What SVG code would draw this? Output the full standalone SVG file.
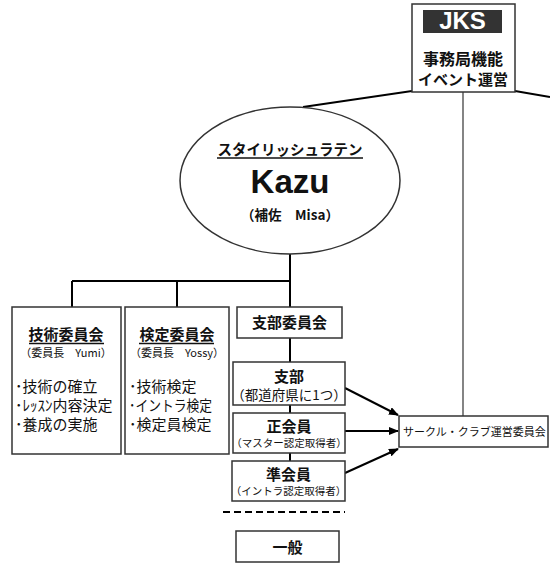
<svg xmlns="http://www.w3.org/2000/svg" width="550" height="575" viewBox="0 0 550 575">
<defs>
<marker id="ah" markerWidth="10" markerHeight="8" refX="9" refY="4" orient="auto" markerUnits="userSpaceOnUse">
<path d="M0,0 L10,4 L0,8 Z" fill="#000"/>
</marker>
<style>
.box{fill:#fff;stroke:#333;stroke-width:1.5}
.ln{stroke:#000;stroke-width:2;fill:none}
.thin{stroke:#333;stroke-width:1.2;fill:none}
.jp{font-family:"Noto Sans CJK JP","Noto Sans",sans-serif;fill:#111}
.b{font-weight:bold}
.c{text-anchor:middle}
.ul{stroke:#111;stroke-width:1.3}
</style>
</defs>
<rect width="550" height="575" fill="#fff"/>
<g id="connectors">
<line class="ln" x1="412" y1="91" x2="303" y2="107"/>
<line class="ln" x1="515" y1="91" x2="550" y2="97"/>
<line class="thin" x1="463" y1="92" x2="463" y2="416"/>
<line class="ln" x1="290" y1="254" x2="290" y2="307"/>
<line class="ln" x1="72" y1="281" x2="290" y2="281"/>
<line class="ln" x1="72" y1="281" x2="72" y2="307"/>
<line class="ln" x1="177" y1="281" x2="177" y2="307"/>
<line class="ln" x1="290" y1="338" x2="290" y2="362"/>
<line class="ln" x1="290" y1="405" x2="290" y2="413"/>
<line class="ln" x1="290" y1="453" x2="290" y2="461"/>
<line class="ln" x1="345" y1="388" x2="398" y2="415" marker-end="url(#ah)"/>
<line class="ln" x1="345" y1="431" x2="398" y2="431" marker-end="url(#ah)"/>
<line class="ln" x1="345" y1="473" x2="398" y2="449" marker-end="url(#ah)"/>
<line x1="223" y1="512" x2="345" y2="512" stroke="#000" stroke-width="2" stroke-dasharray="7,4"/>
</g>
<g id="jks">
<rect class="box" x="412" y="4" width="103" height="88"/>
<rect x="423" y="10" width="79" height="23" fill="#333"/>
<text x="462.5" y="29" class="c" font-family="Liberation Sans,Arial,sans-serif" font-weight="bold" font-size="24" fill="#fff">JKS</text>
<text x="463" y="65" class="jp b c" font-size="16">事務局機能</text>
<text x="463" y="85" class="jp b c" font-size="15">イベント運営</text>
</g>
<g id="kazu">
<ellipse cx="290" cy="180.5" rx="110" ry="73.5" fill="#fff" stroke="#333" stroke-width="1.5"/>
<text x="290" y="155" class="jp b c" font-size="14.5">スタイリッシュラテン</text>
<line class="ul" x1="217" y1="158" x2="363" y2="158"/>
<text x="290" y="193" class="c" font-family="Liberation Sans,Arial,sans-serif" font-weight="bold" font-size="33" fill="#111">Kazu</text>
<text x="290" y="220" class="jp b c" font-size="13.5">（補佐　Misa）</text>
</g>
<g id="gijutsu">
<rect class="box" x="12" y="307" width="109" height="147"/>
<text x="66" y="340" class="jp b c" font-size="15">技術委員会</text>
<line class="ul" x1="29" y1="343.5" x2="104" y2="343.5"/>
<text x="66" y="357" class="jp c" font-size="11" fill="#333">（委員長　Yumi）</text>
<text x="15" y="392" class="jp" font-size="15">･技術の確立</text>
<text x="15" y="411" class="jp" font-size="15">･ﾚｯｽﾝ内容決定</text>
<text x="15" y="430" class="jp" font-size="15">･養成の実施</text>
</g>
<g id="kentei">
<rect class="box" x="125" y="307" width="104" height="147"/>
<text x="177" y="340" class="jp b c" font-size="15">検定委員会</text>
<line class="ul" x1="139" y1="343.5" x2="214" y2="343.5"/>
<text x="177" y="357" class="jp c" font-size="11" fill="#333">（委員長　Yossy）</text>
<text x="129" y="392" class="jp" font-size="15">･技術検定</text>
<text x="129" y="411" class="jp" font-size="15" textLength="83" lengthAdjust="spacingAndGlyphs">･イントラ検定</text>
<text x="129" y="430" class="jp" font-size="15">･検定員検定</text>
</g>
<g id="shibu-iinkai">
<rect class="box" x="237" y="307" width="105" height="31"/>
<text x="289.5" y="328" class="jp b c" font-size="15">支部委員会</text>
</g>
<g id="shibu">
<rect class="box" x="233" y="362" width="112" height="43"/>
<text x="289" y="382" class="jp b c" font-size="15">支部</text>
<text x="289" y="400" class="jp c" font-size="13.5">（都道府県に1つ）</text>
</g>
<g id="seikaiin">
<rect class="box" x="233" y="413" width="112" height="40"/>
<text x="289" y="432" class="jp b c" font-size="15">正会員</text>
<text x="289" y="447" class="jp c" font-size="10.5">（マスター認定取得者）</text>
</g>
<g id="junkaiin">
<rect class="box" x="232" y="461" width="113" height="40"/>
<text x="288.5" y="480" class="jp b c" font-size="15">準会員</text>
<text x="288.5" y="495" class="jp c" font-size="10.5">（イントラ認定取得者）</text>
</g>
<g id="circle">
<rect class="box" x="399" y="416" width="149" height="31"/>
<text x="403" y="436" class="jp" font-size="11">サークル・クラブ運営委員会</text>
</g>
<g id="ippan">
<rect class="box" x="236" y="531" width="103" height="31"/>
<text x="287.5" y="553" class="jp b c" font-size="15">一般</text>
</g>
</svg>
